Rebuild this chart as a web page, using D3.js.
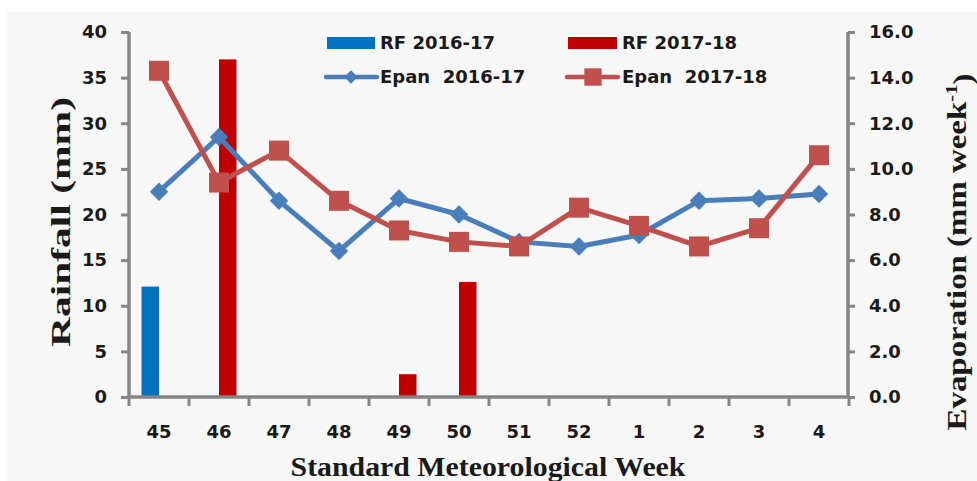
<!DOCTYPE html>
<head>
<meta charset="utf-8" />
<script src="https://d3js.org/d3.v7.min.js"></script>
<style>
    body { margin: 0; background: #fff; }
    svg text { font-family: "DejaVu Sans", sans-serif; font-weight: bold; fill: #1a1a1a; }
    svg text.title { font-family: "Liberation Serif", "Times New Roman", serif; }
</style>
</head>
<body>
<div id="chart"></div>
<script>
// data
var weeks = ["45", "46", "47", "48", "49", "50", "51", "52", "1", "2", "3", "4"];
var rf1617 = [12.1, 0, 0, 0, 0, 0, 0, 0, 0, 0, 0, 0];
var rf1718 = [0, 37, 0, 0, 2.5, 12.6, 0, 0, 0, 0, 0, 0];
var epan1617 = [9.0, 11.4, 8.6, 6.4, 8.7, 8.0, 6.8, 6.6, 7.1, 8.6, 8.7, 8.9];
var epan1718 = [14.3, 9.4, 10.8, 8.6, 7.3, 6.8, 6.6, 8.3, 7.5, 6.6, 7.4, 10.6];
var leftTicks = [0, 5, 10, 15, 20, 25, 30, 35, 40];
var rightTicks = [0, 2, 4, 6, 8, 10, 12, 14, 16];

var width = 977, height = 481;
var blueBar = "#0070c0", redBar = "#c00000", blueLine = "#4a7ebb", redLine = "#c0504d", axisCol = "#858585";

var svg = d3.select("#chart").append("svg")
    .attr("width", width).attr("height", height);

svg.append("rect").attr("x", 7).attr("y", 12)
    .attr("width", width - 7).attr("height", height - 12)
    .attr("fill", "#f7f7f7");

var x = d3.scaleBand().domain(weeks).range([129, 849]);
var xSub = d3.scaleBand().domain(["a", "b"]).range([12.5, 47.5]);
var yL = d3.scaleLinear().domain([0, 40]).range([397, 32]);
var yR = d3.scaleLinear().domain([0, 16]).range([397, 32]);

// bars
var bars = svg.append("g");
bars.selectAll(".b1").data(weeks).join("rect")
    .attr("x", function(d) { return x(d) + xSub("a"); })
    .attr("width", xSub.bandwidth())
    .attr("y", function(d, i) { return yL(rf1617[i]); })
    .attr("height", function(d, i) { return yL(0) - yL(rf1617[i]); })
    .attr("fill", blueBar);
bars.selectAll(".b2").data(weeks).join("rect")
    .attr("x", function(d) { return x(d) + xSub("b"); })
    .attr("width", xSub.bandwidth())
    .attr("y", function(d, i) { return yL(rf1718[i]); })
    .attr("height", function(d, i) { return yL(0) - yL(rf1718[i]); })
    .attr("fill", redBar);

// axes
var axL = svg.append("g").attr("transform", "translate(129,0)")
    .call(d3.axisLeft(yL).tickValues(leftTicks).tickSize(8).tickPadding(14).tickFormat(d3.format("d")));
var axR = svg.append("g").attr("transform", "translate(848,0)")
    .call(d3.axisRight(yR).tickValues(rightTicks).tickSize(7).tickPadding(14).tickFormat(d3.format(".1f")));
var axB = svg.append("g").attr("transform", "translate(0,397)")
    .call(d3.axisBottom(x).tickSize(0).tickPadding(28));
// x ticks sit on the category boundaries
axB.selectAll(".edge").data(d3.range(weeks.length + 1)).join("line")
    .attr("x1", function(i) { return 129 + i * x.bandwidth(); })
    .attr("x2", function(i) { return 129 + i * x.bandwidth(); })
    .attr("y1", 0).attr("y2", 9)
    .attr("stroke", axisCol).attr("stroke-width", 3);

[axL, axR, axB].forEach(function(a) {
    a.selectAll("path.domain").attr("stroke", axisCol).attr("stroke-width", 3.5);
    a.selectAll(".tick line").attr("stroke", axisCol).attr("stroke-width", 3);
    a.selectAll(".tick text").style("font-size", "18px").attr("fill", "#1a1a1a");
});
axB.select("path.domain").attr("d", "M129,0H849");
axL.select("path.domain").attr("d", "M0,32V398");
axR.select("path.domain").attr("d", "M0,32V398");

// lines
function drawSeries(vals, col, symbol, size) {
    var line = d3.line()
        .x(function(d, i) { return x(weeks[i]) + x.bandwidth() / 2; })
        .y(function(d) { return yR(d); });
    svg.append("path").datum(vals).attr("d", line)
        .attr("fill", "none").attr("stroke", col).attr("stroke-width", 5)
        .attr("stroke-linejoin", "round");
    svg.append("g").selectAll("path").data(vals).join("path")
        .attr("transform", function(d, i) {
            return "translate(" + (x(weeks[i]) + x.bandwidth() / 2) + "," + yR(d) + ")";
        })
        .attr("d", d3.symbol().type(symbol).size(size))
        .attr("fill", col);
}
var diamond = { draw: function(ctx, size) {
    var r = Math.sqrt(size / 2);
    ctx.moveTo(0, -r); ctx.lineTo(r, 0); ctx.lineTo(0, r); ctx.lineTo(-r, 0); ctx.closePath();
} };
drawSeries(epan1617, blueLine, diamond, 170);
drawSeries(epan1718, redLine, d3.symbolSquare, 400);

// legend
var lg = svg.append("g");
lg.append("rect").attr("x", 327).attr("y", 37).attr("width", 48).attr("height", 12).attr("fill", blueBar);
lg.append("rect").attr("x", 568).attr("y", 37).attr("width", 49).attr("height", 12).attr("fill", redBar);
lg.append("line").attr("x1", 326).attr("x2", 377).attr("y1", 77).attr("y2", 77)
    .attr("stroke", blueLine).attr("stroke-width", 4.5).attr("stroke-linecap", "round");
lg.append("path").attr("transform", "translate(351,77)").attr("d", d3.symbol().type(diamond).size(90)).attr("fill", blueLine);
lg.append("line").attr("x1", 567).attr("x2", 618).attr("y1", 77).attr("y2", 77)
    .attr("stroke", redLine).attr("stroke-width", 4.5).attr("stroke-linecap", "round");
lg.append("path").attr("transform", "translate(593,77)").attr("d", d3.symbol().type(d3.symbolSquare).size(300)).attr("fill", redLine);
var legendText = [["RF 2016-17", 380, 43], ["RF 2017-18", 622, 43], ["Epan  2016-17", 380, 77], ["Epan  2017-18", 622, 77]];
lg.selectAll("text").data(legendText).join("text")
    .attr("x", function(d) { return d[1]; }).attr("y", function(d) { return d[2]; })
    .attr("dy", "0.36em").style("font-size", "18px").style("white-space", "pre")
    .text(function(d) { return d[0]; });

// titles, stretched along their length to match the reference
function title(cx, cy, rot, len, size, dy) {
    var t = svg.append("text").attr("class", "title")
        .attr("text-anchor", "middle").attr("dy", dy)
        .style("font-size", size + "px");
    return { t: t, fit: function() {
        var k = len / t.node().getComputedTextLength();
        t.attr("transform", "translate(" + cx + "," + cy + ") rotate(" + rot + ") scale(" + k + ",1)");
    } };
}
var tl = title(60, 222, -90, 250, 28, "0.35em");
tl.t.text("Rainfall (mm)"); tl.fit();
var tb = title(488, 466, 0, 395, 28, "0.35em");
tb.t.text("Standard Meteorological Week"); tb.fit();
var tr = title(958, 252, -90, 357, 27, "0.3em");
tr.t.append("tspan").text("Evaporation (mm week");
tr.t.append("tspan").attr("dy", "-0.55em").style("font-size", "17px").text("-1");
tr.t.append("tspan").attr("dy", "0.55em").text(")");
tr.fit();
</script>
</body>
